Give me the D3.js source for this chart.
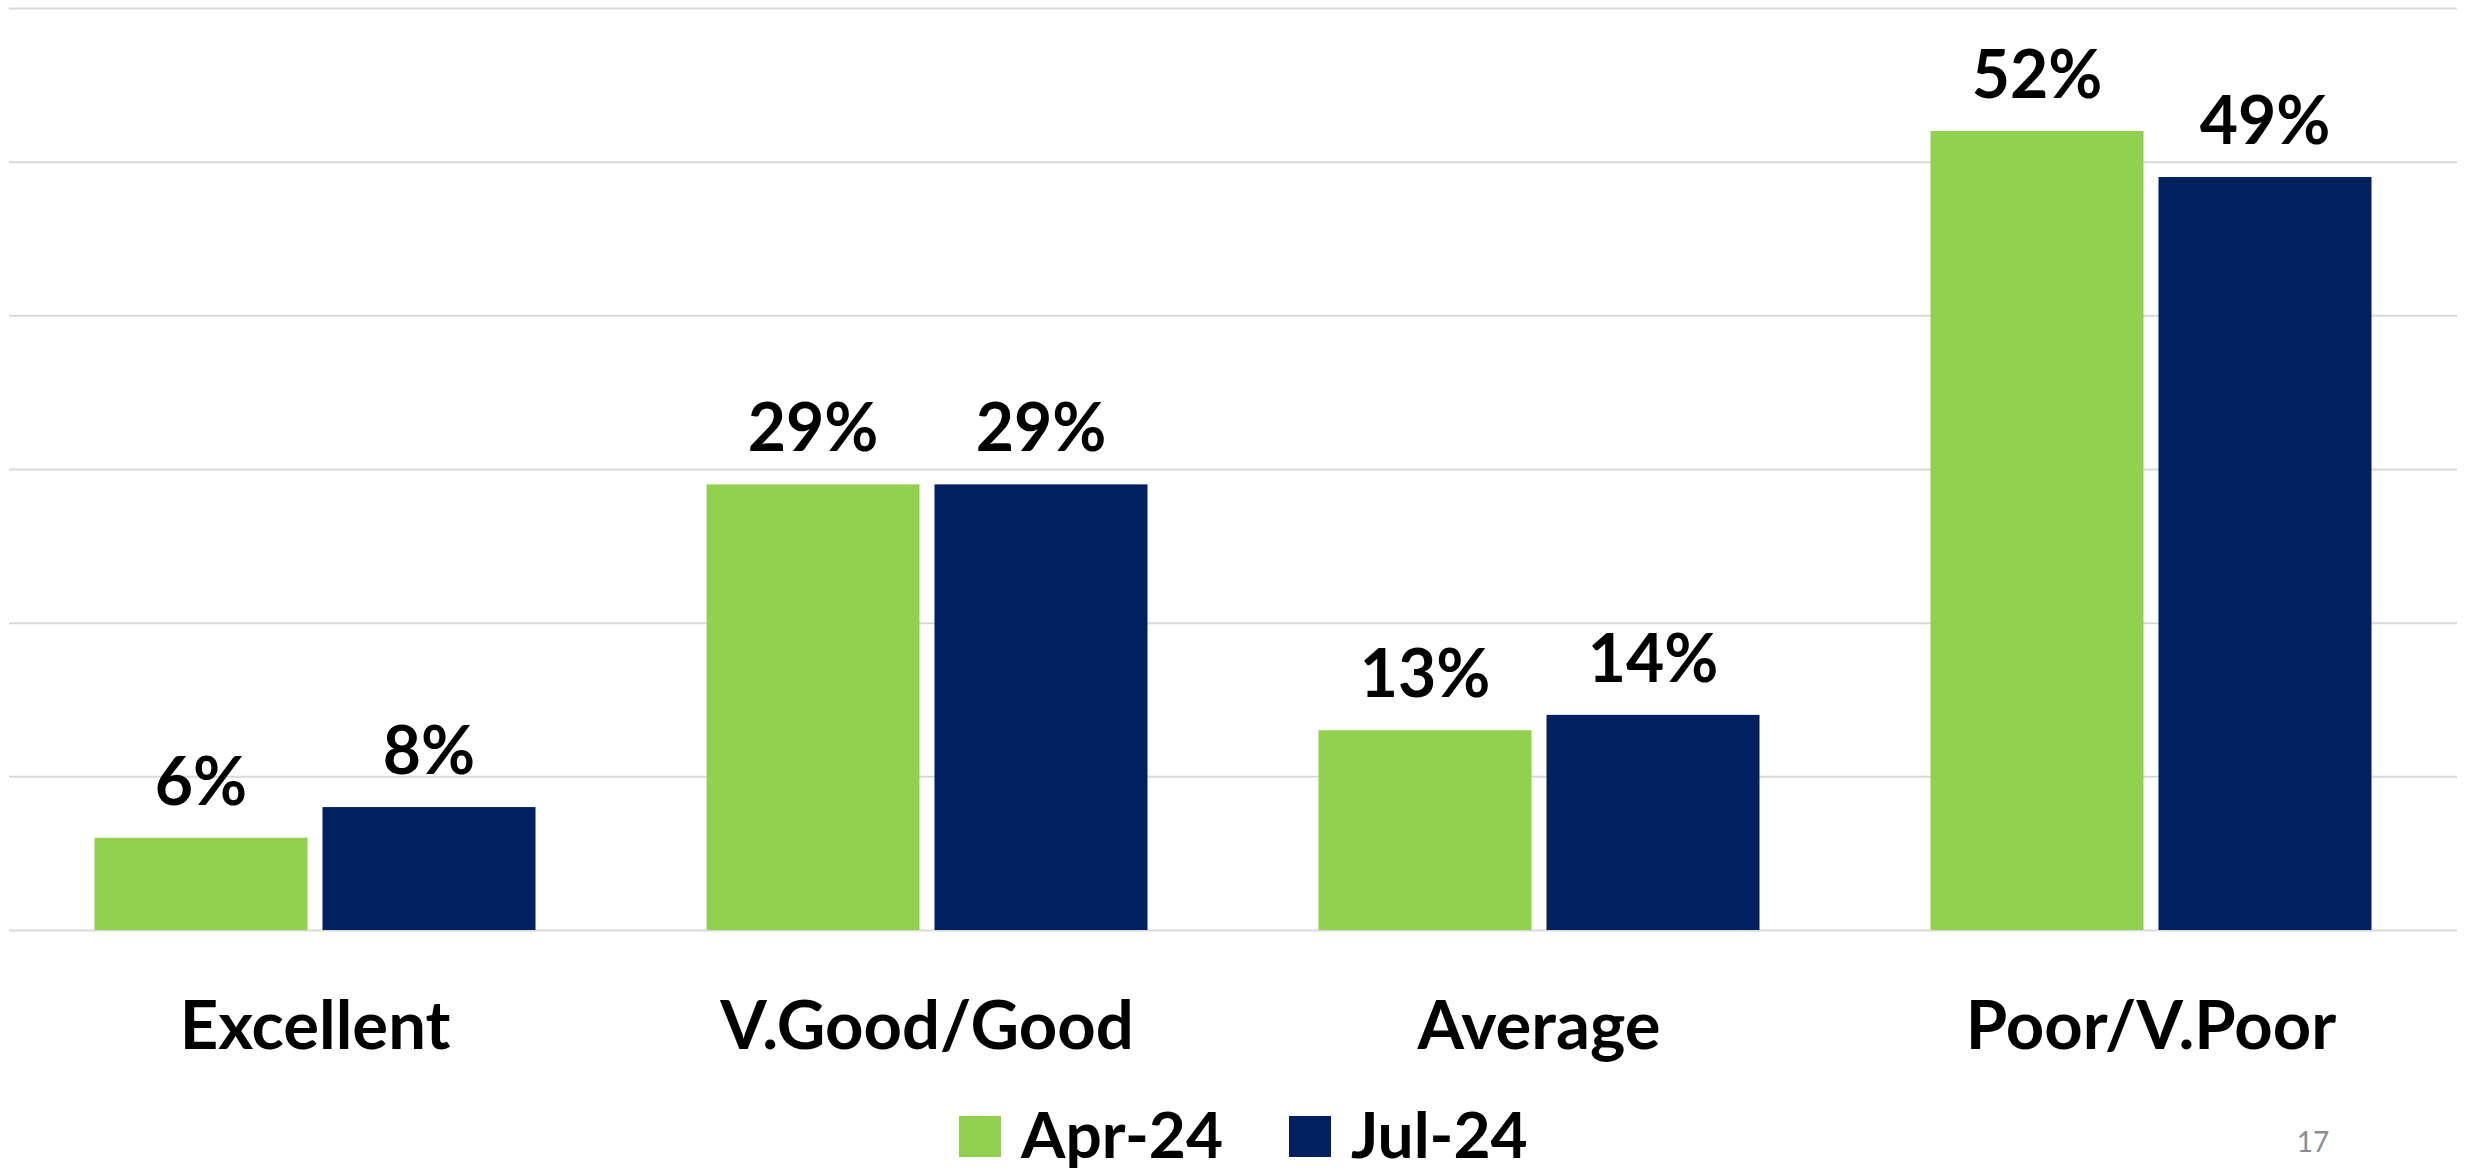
<!DOCTYPE html>
<html>
<head>
<meta charset="utf-8">
<script src="https://cdn.jsdelivr.net/npm/d3@7"></script>
<style>
  html, body { margin: 0; padding: 0; background: #ffffff; }
  svg { display: block; }
</style>
</head>
<body>
<svg id="chart" width="2468" height="1172"></svg>
<script>
const categories = ["Excellent", "V.Good/Good", "Average", "Poor/V.Poor"];
const seriesNames = ["Apr-24", "Jul-24"];
const apr24 = [6, 29, 13, 52];
const jul24 = [8, 29, 14, 49];
const yTicks = [0, 10, 20, 30, 40, 50, 60];
const pageNumber = "17";

const seriesValues = [apr24, jul24];
const colors = ["#92D050", "#002060"];
const FONT = "Lato, 'Noto Sans', sans-serif";

const svg = d3.select("#chart");
const plotLeft = 9, plotRight = 2457, plotTop = 8, plotBottom = 930;

const x0 = d3.scaleBand().domain(categories).range([plotLeft, plotRight]).paddingInner(0).paddingOuter(0);
const groupW = 441;
const x1 = d3.scaleBand().domain(seriesNames).range([0, groupW]).paddingInner(15 / 228).paddingOuter(0);
const y = d3.scaleLinear().domain([0, 60]).range([plotBottom, plotTop]);

// gridlines
const yAxis = d3.axisLeft(y).tickValues(yTicks).tickSize(-(plotRight - plotLeft)).tickFormat("");
const g = svg.append("g").attr("transform", `translate(${plotLeft},0)`).call(yAxis);
g.select(".domain").remove();
g.selectAll(".tick line").attr("stroke", "#d9d9d9").attr("stroke-width", 2);

// bars
const groups = svg.append("g").selectAll("g")
  .data(categories)
  .join("g")
  .attr("transform", c => `translate(${x0(c) + (x0.bandwidth() - groupW) / 2},0)`);

groups.selectAll("rect")
  .data((c, i) => seriesNames.map((s, j) => ({ s, j, v: seriesValues[j][i] })))
  .join("rect")
  .attr("x", d => x1(d.s))
  .attr("width", x1.bandwidth())
  .attr("y", d => y(d.v))
  .attr("height", d => y(0) - y(d.v))
  .attr("fill", d => colors[d.j]);

groups.selectAll("text.val")
  .data((c, i) => seriesNames.map((s, j) => ({ s, j, v: seriesValues[j][i] })))
  .join("text")
  .attr("class", "val")
  .attr("x", d => x1(d.s) + x1.bandwidth() / 2)
  .attr("y", d => y(d.v) - 33)
  .attr("text-anchor", "middle")
  .attr("font-family", FONT)
  .attr("font-weight", "bold")
  .attr("font-size", 66)
  .attr("fill", "#000")
  .text(d => d.v + "%");

// category labels
const xAxis = d3.axisBottom(x0).tickSize(0).tickPadding(0);
const xg = svg.append("g").attr("transform", `translate(0,${plotBottom})`).call(xAxis);
xg.select(".domain").remove();
xg.selectAll(".tick text")
  .attr("dy", null)
  .attr("y", 1049 - plotBottom)
  .attr("font-family", FONT)
  .attr("font-weight", "bold")
  .attr("font-size", 67)
  .attr("fill", "#000");

// legend
const legendX = [959, 1289];
const leg = svg.append("g").selectAll("g")
  .data(seriesNames)
  .join("g")
  .attr("transform", (d, i) => `translate(${legendX[i]},0)`);
leg.append("rect").attr("x", 0).attr("y", 1116).attr("width", 42).attr("height", 41)
  .attr("fill", (d, i) => colors[i]);
leg.append("text").attr("x", 62).attr("y", 1158)
  .attr("font-family", FONT).attr("font-weight", "bold").attr("font-size", 64)
  .attr("fill", "#000").text(d => d);

// page number
svg.append("text").attr("x", 2313).attr("y", 1152).attr("text-anchor", "middle")
  .attr("font-family", FONT).attr("font-size", 28).attr("fill", "#8c8c8c").text(pageNumber);
</script>
</body>
</html>
